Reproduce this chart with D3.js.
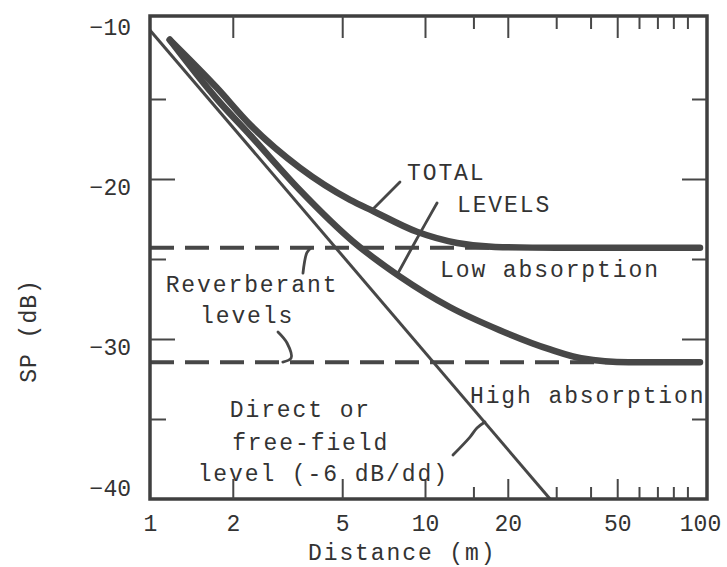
<!DOCTYPE html>
<html>
<head>
<meta charset="utf-8">
<script src="https://cdn.jsdelivr.net/npm/d3@7"></script>
<style>
  body { margin: 0; background: #fff; }
  text { font-family: "Liberation Mono", "DejaVu Sans Mono", monospace; fill: #333; }
</style>
</head>
<body>
<script>
// Axis ticks and labels
const distLabels = [1, 2, 5, 10, 20, 50, 100];
const distTicksMajor = [2, 5, 10, 20, 50];
const distTicksMinor = [15, 30, 40, 60, 70, 80, 90];
const levelLabels = [-10, -20, -30, -40];
const levelTicksMajor = [-20, -30];
const levelTicksMinor = [-15, -25, -35];

// Total level, low absorption room (upper curve)
const lowAbsDist  = [1.18, 1.75, 2.31, 3.51, 5.34, 6.47, 9.35, 13.1, 18, 30, 100];
const lowAbsLevel = [-11.3, -14.3, -16.6, -19.3, -21.3, -22.0, -23.3, -24.0, -24.25, -24.3, -24.3];

// Total level, high absorption room (lower curve)
const highAbsDist  = [1.18, 1.75, 2.31, 3.51, 5.47, 8.11, 12.3, 18.7, 28.5, 37, 55, 100];
const highAbsLevel = [-11.3, -15.0, -17.25, -20.7, -23.9, -26.1, -28.0, -29.45, -30.65, -31.2, -31.45, -31.45];

// Direct (free-field) level, -6 dB per doubling of distance
const directDist  = [1, 28.5];
const directLevel = [-10.7, -40];

// Reverberant levels
const reverbLevels = [-24.3, -31.45];

// Set dimensions
const width = 727;
const height = 567;

const svg = d3.select("body")
  .append("svg")
  .attr("width", width)
  .attr("height", height);

const x = d3.scaleLog()
  .domain([1, 100])
  .range([150, 700]);

const y = d3.scaleLinear()
  .domain([-40, -10])
  .range([499, 19]);

const ink = "#474747";
const fontSize = 23;
const frameLeft = x(1), frameRight = x(100) + 7;
const frameTop = y(-10) - 3, frameBottom = y(-40);

// Reverberant dashed levels
svg.append("g")
  .selectAll("line")
  .data(reverbLevels).enter()
  .append("line")
  .attr("x1", x(1))
  .attr("x2", x(100))
  .attr("y1", d => y(d))
  .attr("y2", d => y(d))
  .attr("stroke", ink)
  .attr("stroke-width", 4)
  .attr("stroke-dasharray", "24 11");

// Direct line
const direct = directDist.map((d, i) => [d, directLevel[i]]);
svg.append("path")
  .datum(direct)
  .attr("d", d3.line().x(d => x(d[0])).y(d => y(d[1])))
  .attr("fill", "none")
  .attr("stroke", ink)
  .attr("stroke-width", 3);

// Total levels
const curve = d3.line()
  .x(d => x(d[0]))
  .y(d => y(d[1]))
  .curve(d3.curveMonotoneX);

const totals = [
  lowAbsDist.map((d, i) => [d, lowAbsLevel[i]]),
  highAbsDist.map((d, i) => [d, highAbsLevel[i]])
];
svg.append("g")
  .selectAll("path")
  .data(totals).enter()
  .append("path")
  .attr("d", curve)
  .attr("fill", "none")
  .attr("stroke", ink)
  .attr("stroke-width", 6.5)
  .attr("stroke-linecap", "round");

// Frame
svg.append("rect")
  .attr("x", frameLeft)
  .attr("y", frameTop)
  .attr("width", frameRight - frameLeft)
  .attr("height", frameBottom - frameTop)
  .attr("fill", "none")
  .attr("stroke", "#3f3f3f")
  .attr("stroke-width", 3.5);

// Inward tick marks on all four sides
function ticks(axis, values, size, transform) {
  svg.append("g")
    .attr("transform", transform)
    .call(axis.tickValues(values).tickSize(size).tickFormat(""))
    .call(g => g.select(".domain").remove())
    .call(g => g.selectAll("line").attr("stroke", ink).attr("stroke-width", 2));
}
ticks(d3.axisBottom(x), distTicksMajor, -20, `translate(0,${frameBottom})`);
ticks(d3.axisBottom(x), distTicksMinor, -12, `translate(0,${frameBottom})`);
ticks(d3.axisTop(x), distTicksMajor, -22, `translate(0,${frameTop})`);
ticks(d3.axisTop(x), distTicksMinor, -13, `translate(0,${frameTop})`);
ticks(d3.axisLeft(y), levelTicksMajor, -25, `translate(${frameLeft},0)`);
ticks(d3.axisLeft(y), levelTicksMinor, -16, `translate(${frameLeft},0)`);
ticks(d3.axisRight(y), levelTicksMajor, -25, `translate(${frameRight},0)`);
ticks(d3.axisRight(y), levelTicksMinor, -15, `translate(${frameRight},0)`);

// Tick labels
svg.append("g")
  .attr("transform", `translate(0,${frameBottom})`)
  .call(d3.axisBottom(x).tickValues(distLabels).tickSize(0).tickPadding(16).tickFormat(d3.format("d")))
  .call(g => g.select(".domain").remove())
  .call(g => g.selectAll("text").attr("font-size", fontSize).attr("font-family", null).attr("fill", "#333"));

svg.append("g")
  .attr("transform", `translate(${frameLeft},0)`)
  .call(d3.axisLeft(y).tickValues(levelLabels).tickSize(0).tickPadding(19).tickFormat(d => "\u2212" + Math.abs(d)))
  .call(g => g.select(".domain").remove())
  .call(g => g.selectAll("text")
    .attr("font-size", fontSize).attr("font-family", null).attr("fill", "#333")
    .attr("dy", d => d === -40 ? "-0.15em" : "0.68em"));

// Axis titles
svg.append("text")
  .attr("x", 308)
  .attr("y", 560)
  .attr("font-size", fontSize)
  .attr("letter-spacing", 1.9)
  .text("Distance (m)");

svg.append("text")
  .attr("transform", "translate(36,331) rotate(-90)")
  .attr("text-anchor", "middle")
  .attr("font-size", fontSize)
  .attr("letter-spacing", 1)
  .text("SP (dB)");

// Annotations
const notes = [
  ["TOTAL", 8.6, -20.06],
  ["LEVELS", 13.07, -22.06],
  ["Low absorption", 11.34, -26.13],
  ["High absorption", 14.57, -34.0],
  ["Reverberant", 1.14, -27.06],
  ["levels", 1.52, -29.0],
  ["Direct or", 1.95, -34.88],
  ["free-field", 1.99, -36.94],
  ["level (-6 dB/dd)", 1.49, -38.88]
];
svg.append("g")
  .selectAll("text")
  .data(notes).enter()
  .append("text")
  .attr("x", d => x(d[1]))
  .attr("y", d => y(d[2]))
  .attr("font-size", fontSize)
  .attr("letter-spacing", 1.9)
  .text(d => d[0]);

// Leader strokes
const leaders = [
  [[8.11, -20.19], [6.42, -21.94]],
  [[11.06, -21.5], [9.3, -23.8], [7.91, -26.0]],
  [[3.6, -25.88], [3.72, -24.6], [3.85, -24.3]],
  [[2.92, -29.56], [3.15, -30.25], [3.26, -31.19], [3.04, -31.44]],
  [[12.64, -37.25], [14.57, -36.13], [15.45, -35.56], [16.52, -35.19]]
];
svg.append("g")
  .selectAll("path")
  .data(leaders).enter()
  .append("path")
  .attr("d", d3.line().x(d => x(d[0])).y(d => y(d[1])).curve(d3.curveCatmullRom))
  .attr("fill", "none")
  .attr("stroke", ink)
  .attr("stroke-width", 2.8)
  .attr("stroke-linecap", "round");
</script>
</body>
</html>
